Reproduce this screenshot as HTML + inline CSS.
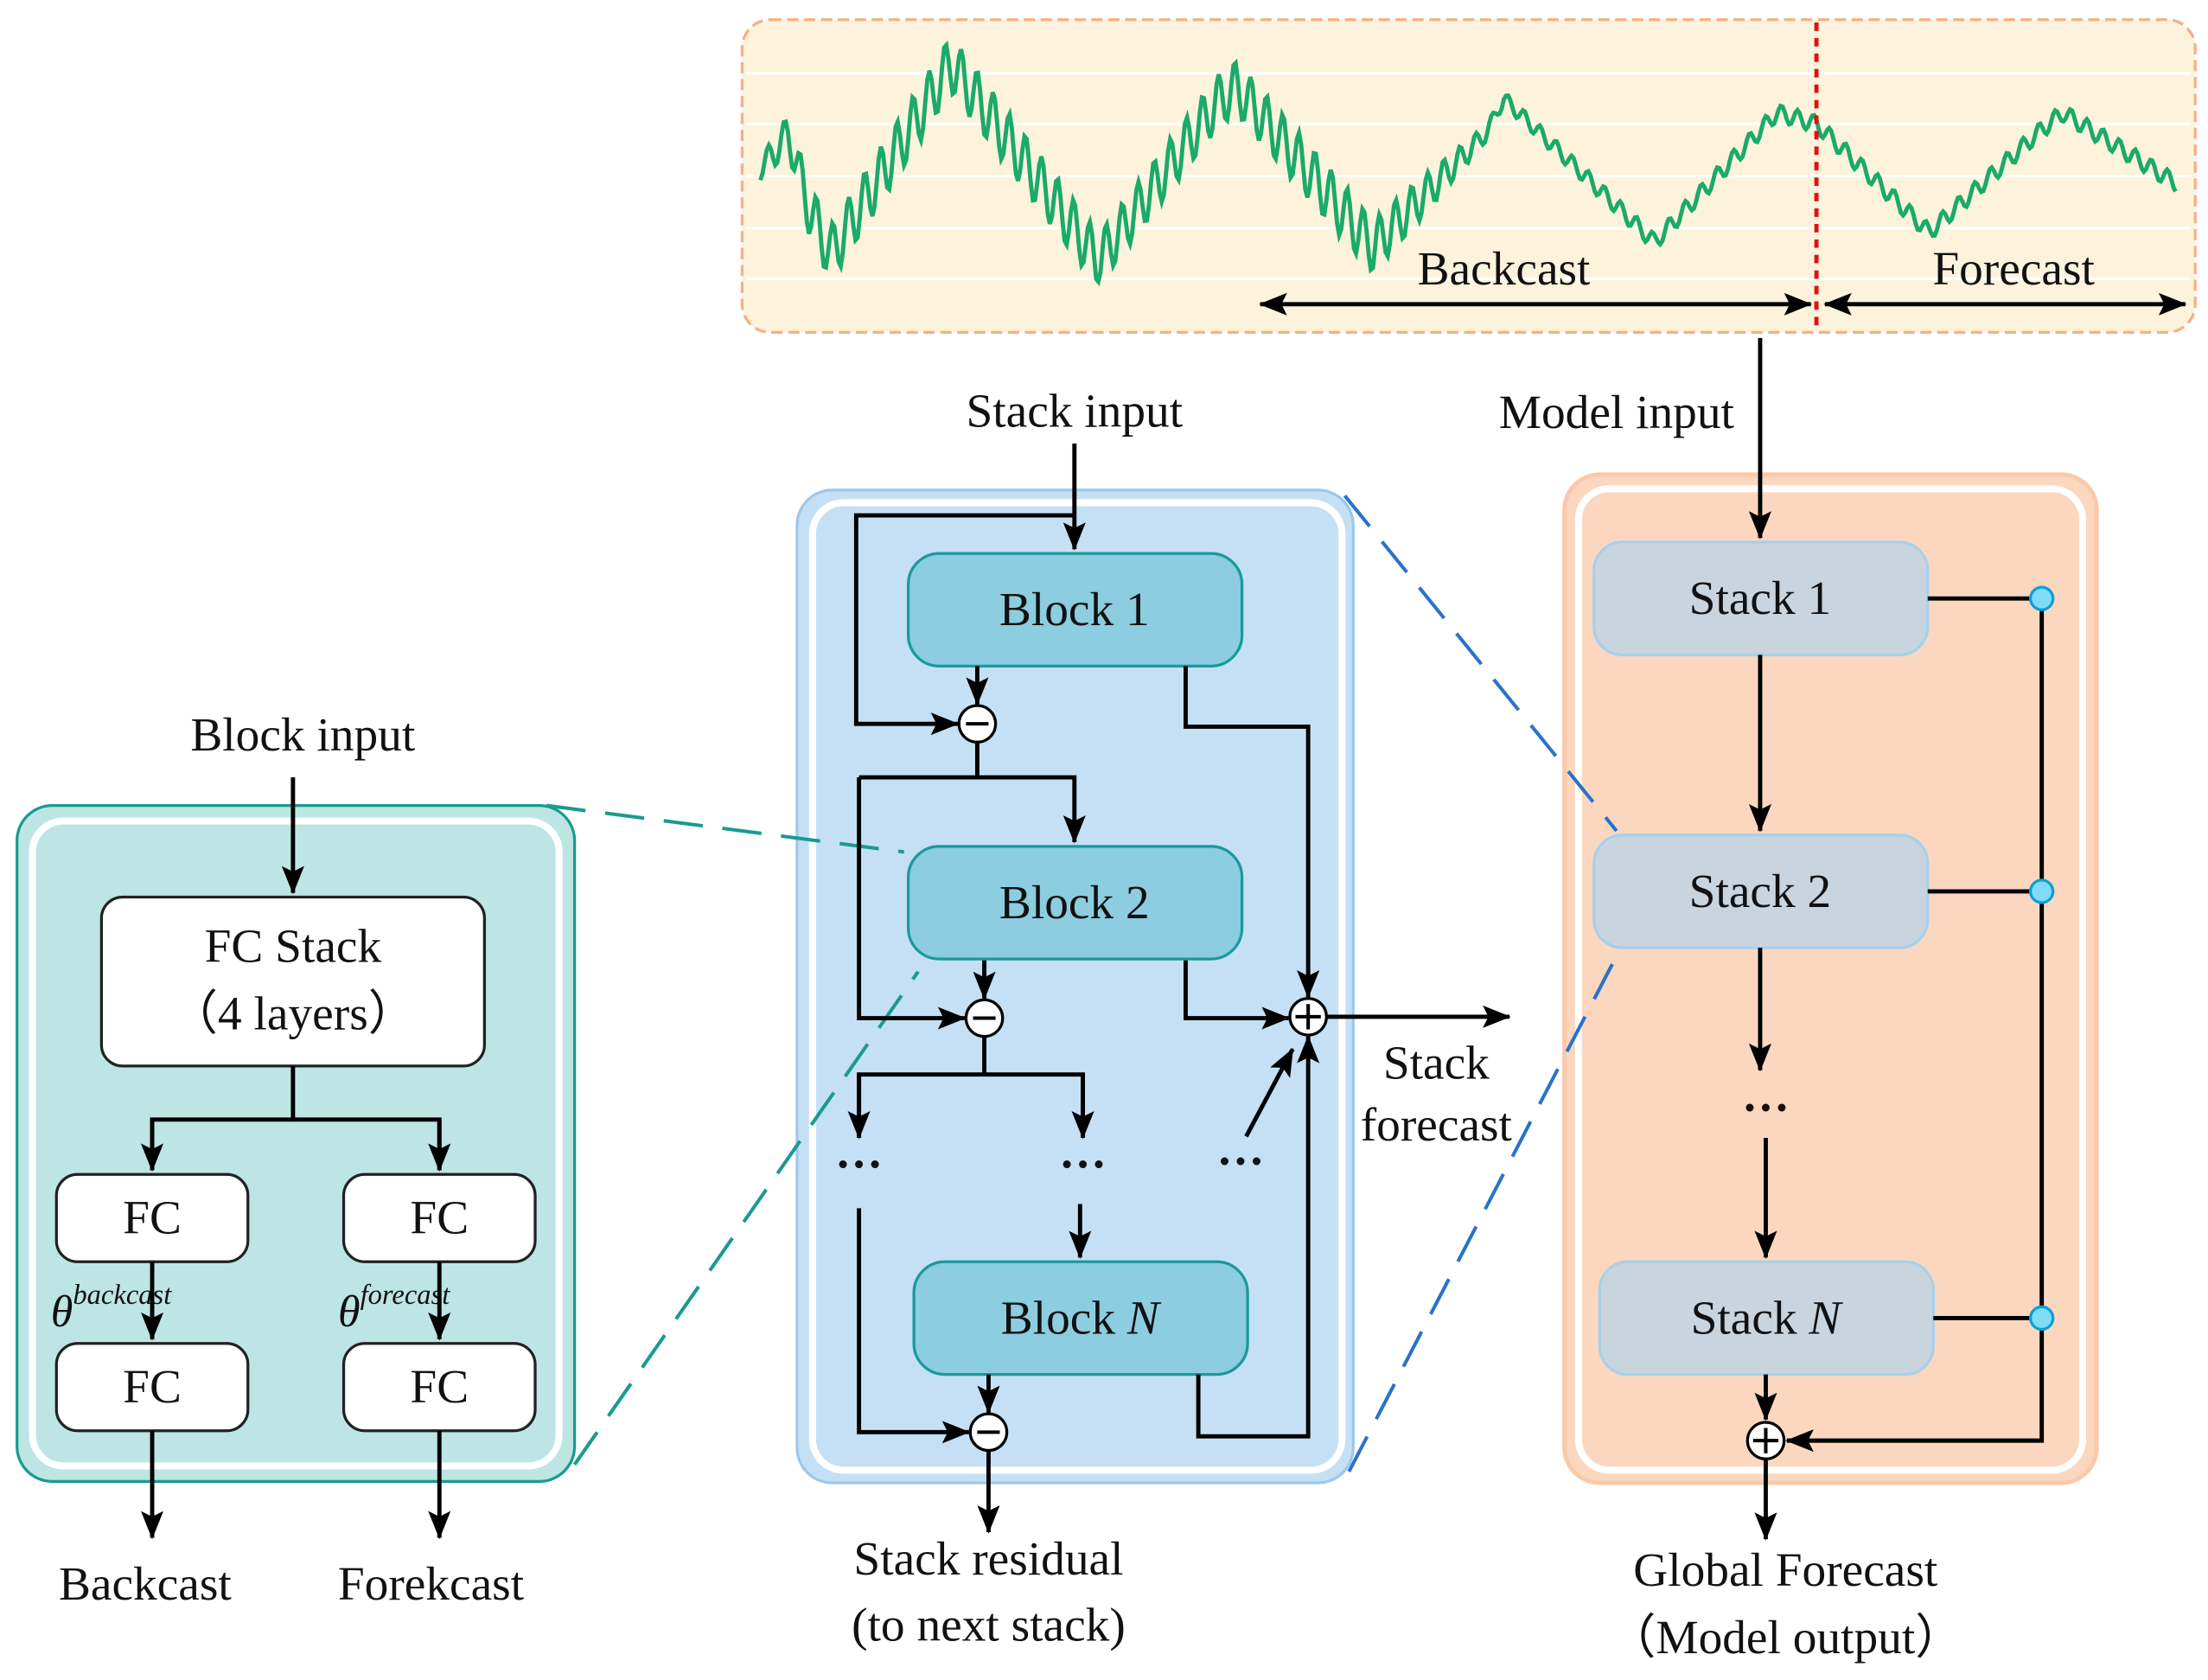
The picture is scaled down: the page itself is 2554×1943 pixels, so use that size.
<!DOCTYPE html>
<html><head><meta charset="utf-8"><style>html,body{margin:0;padding:0;background:#fff}svg{display:block}text{font-family:"Liberation Serif",serif;fill:#111}</style></head>
<body>
<svg id="s" width="2554" height="1943" viewBox="0 0 1568 1193" xmlns="http://www.w3.org/2000/svg">
<defs>
<marker id="a2" markerWidth="20" markerHeight="16" refX="19" refY="8" orient="auto" markerUnits="userSpaceOnUse" viewBox="0 0 20 16"><path d="M0,0 L20,8 L0,16 L4,8 z" fill="#000"/></marker>
<marker id="b2" markerWidth="20" markerHeight="16" refX="1" refY="8" orient="auto" markerUnits="userSpaceOnUse" viewBox="0 0 20 16"><path d="M20,0 L0,8 L20,16 L16,8 z" fill="#000"/></marker>
</defs>
<!-- top panel -->
<rect x="527" y="14" width="1032" height="222" rx="20" fill="#fdf3dc" stroke="#f4b183" stroke-width="2" stroke-dasharray="8,4"/>
<g stroke="#fff" stroke-width="2"><line x1="530" y1="52" x2="1556" y2="52"/><line x1="530" y1="88" x2="1556" y2="88"/><line x1="530" y1="125" x2="1556" y2="125"/><line x1="530" y1="162" x2="1556" y2="162"/><line x1="530" y1="198" x2="1556" y2="198"/></g>
<polyline id="wave" fill="none" stroke="#1aaa6a" stroke-width="3" points=""/>
<line x1="1290" y1="16" x2="1290" y2="236" stroke="#e01010" stroke-width="3" stroke-dasharray="6,5"/>
<g stroke="#000" stroke-width="3" fill="none">
<line x1="895" y1="216" x2="1286" y2="216" marker-start="url(#b2)" marker-end="url(#a2)"/>
<line x1="1296" y1="216" x2="1552" y2="216" marker-start="url(#b2)" marker-end="url(#a2)"/>
</g>
<text x="1068" y="202" font-size="34" text-anchor="middle">Backcast</text>
<text x="1430" y="202" font-size="34" text-anchor="middle">Forecast</text>
<text x="763" y="303" font-size="34" text-anchor="middle">Stack input</text>
<text x="1148" y="304" font-size="34" text-anchor="middle">Model input</text>

<!-- panels -->
<rect x="566" y="348" width="395" height="705" rx="25" fill="#c5e0f4" stroke="#9dc8ec" stroke-width="2"/>
<rect x="577" y="357" width="376" height="687" rx="22" fill="none" stroke="#fff" stroke-width="5"/>
<rect x="1111" y="337" width="378" height="716" rx="25" fill="#fcd7c0" stroke="#fbc8a8" stroke-width="3"/>
<rect x="1121" y="347" width="358" height="697" rx="22" fill="none" stroke="#fff" stroke-width="5"/>

<!-- dashed connectors -->
<g fill="none" stroke-width="2.5" stroke-dasharray="28,14">
<line x1="388" y1="572" x2="642" y2="605" stroke="#1a9a90"/>
<line x1="408" y1="1040" x2="652" y2="690" stroke="#1a9a90"/>
<line x1="955" y1="352" x2="1148" y2="590" stroke="#2a72c8"/>
<line x1="958" y1="1045" x2="1150" y2="675" stroke="#2a72c8"/>
</g>

<g fill="#8ccde0" stroke="#1a9a9a" stroke-width="2">
<rect x="645" y="393" width="237" height="80" rx="22"/>
<rect x="645" y="601" width="237" height="80" rx="22"/>
<rect x="649" y="896" width="237" height="80" rx="22"/>
</g>
<text x="763" y="444" font-size="34" text-anchor="middle">Block 1</text>
<text x="763" y="652" font-size="34" text-anchor="middle">Block 2</text>
<text x="767" y="947" font-size="34" text-anchor="middle">Block <tspan font-style="italic">N</tspan></text>
<g stroke="#000" stroke-width="3" fill="none">
<line x1="763" y1="315" x2="763" y2="390" marker-end="url(#a2)"/>
<polyline points="763,366 608,366 608,514 680,514" marker-end="url(#a2)"/>
<line x1="694" y1="473" x2="694" y2="500" marker-end="url(#a2)"/>
<polyline points="694,527 694,552"/>
<polyline points="610,552 763,552 763,598" marker-end="url(#a2)"/>
<polyline points="610,552 610,723 685,723" marker-end="url(#a2)"/>
<line x1="699" y1="682" x2="699" y2="709" marker-end="url(#a2)"/>
<line x1="699" y1="736" x2="699" y2="763"/>
<polyline points="610,808 610,763 769,763 769,808" />
<line x1="610" y1="763" x2="610" y2="808" marker-end="url(#a2)"/>
<line x1="769" y1="763" x2="769" y2="808" marker-end="url(#a2)"/>
<line x1="767" y1="855" x2="767" y2="893" marker-end="url(#a2)"/>
<polyline points="610,858 610,1017 688,1017" marker-end="url(#a2)"/>
<line x1="702" y1="976" x2="702" y2="1003" marker-end="url(#a2)"/>
<line x1="702" y1="1030" x2="702" y2="1088" marker-end="url(#a2)"/>
<polyline points="842,473 842,516 929,516 929,708" marker-end="url(#a2)"/>
<polyline points="842,682 842,723 915,723" marker-end="url(#a2)"/>
<polyline points="851,976 851,1020 929,1020 929,736" marker-end="url(#a2)"/>
<line x1="885" y1="807" x2="918" y2="745" marker-end="url(#a2)"/>
<line x1="942" y1="722" x2="1072" y2="722" marker-end="url(#a2)"/>
</g>
<g fill="#fff" stroke="#000" stroke-width="2">
<circle cx="694" cy="514" r="13"/><circle cx="699" cy="723" r="13"/><circle cx="702" cy="1017" r="13"/><circle cx="929" cy="722" r="13"/>
</g>
<g stroke="#000" stroke-width="2.5">
<line x1="686" y1="514" x2="702" y2="514"/><line x1="691" y1="723" x2="707" y2="723"/><line x1="694" y1="1017" x2="710" y2="1017"/>
<line x1="920" y1="722" x2="938" y2="722"/><line x1="929" y1="713" x2="929" y2="731"/>
</g>
<text x="610" y="838" font-size="34" text-anchor="middle" font-weight="bold">···</text>
<text x="769" y="838" font-size="34" text-anchor="middle" font-weight="bold">···</text>
<text x="881" y="836" font-size="34" text-anchor="middle" font-weight="bold">···</text>
<text x="1020" y="766" font-size="34" text-anchor="middle">Stack</text>
<text x="1020" y="810" font-size="34" text-anchor="middle">forecast</text>
<text x="702" y="1118" font-size="34" text-anchor="middle">Stack residual</text>
<text x="702" y="1165" font-size="34" text-anchor="middle">(to next stack)</text>

<!-- right panel contents -->
<g fill="#c8d5df" stroke="#a8d0ea" stroke-width="2">
<rect x="1132" y="385" width="237" height="80" rx="20"/>
<rect x="1132" y="593" width="237" height="80" rx="20"/>
<rect x="1136" y="896" width="237" height="80" rx="20"/>
</g>
<text x="1250" y="436" font-size="34" text-anchor="middle">Stack 1</text>
<text x="1250" y="644" font-size="34" text-anchor="middle">Stack 2</text>
<text x="1254" y="947" font-size="34" text-anchor="middle">Stack <tspan font-style="italic">N</tspan></text>
<g stroke="#000" stroke-width="3" fill="none">
<line x1="1250" y1="240" x2="1250" y2="382" marker-end="url(#a2)"/>
<line x1="1250" y1="465" x2="1250" y2="590" marker-end="url(#a2)"/>
<line x1="1250" y1="673" x2="1250" y2="760" marker-end="url(#a2)"/>
<line x1="1254" y1="808" x2="1254" y2="893" marker-end="url(#a2)"/>
<line x1="1254" y1="976" x2="1254" y2="1008" marker-end="url(#a2)"/>
<line x1="1254" y1="1037" x2="1254" y2="1093" marker-end="url(#a2)"/>
<line x1="1369" y1="425" x2="1450" y2="425"/>
<line x1="1369" y1="633" x2="1450" y2="633"/>
<line x1="1373" y1="936" x2="1450" y2="936"/>
<polyline points="1450,425 1450,1023 1269,1023" marker-end="url(#a2)"/>
</g>
<g fill="#7fdcf7" stroke="#0aa0d8" stroke-width="2">
<circle cx="1450" cy="425" r="8"/><circle cx="1450" cy="633" r="8"/><circle cx="1450" cy="936" r="8"/>
</g>
<circle cx="1254" cy="1023" r="13" fill="#fff" stroke="#000" stroke-width="2"/>
<g stroke="#000" stroke-width="2.5"><line x1="1245" y1="1023" x2="1263" y2="1023"/><line x1="1254" y1="1014" x2="1254" y2="1032"/></g>
<text x="1254" y="798" font-size="34" text-anchor="middle" font-weight="bold">···</text>
<text x="1268" y="1126" font-size="34" text-anchor="middle">Global Forecast</text>
<text x="1268" y="1174" font-size="34" text-anchor="middle">（Model output）</text>

<!-- left panel -->
<text x="215" y="533" font-size="34" text-anchor="middle">Block input</text>
<rect x="12" y="572" width="396" height="480" rx="25" fill="#bde5e3" stroke="#1a9a90" stroke-width="2"/>
<rect x="23" y="583" width="374" height="458" rx="22" fill="none" stroke="#fff" stroke-width="5"/>
<g fill="#fff" stroke="#222" stroke-width="2">
<rect x="72" y="637" width="272" height="120" rx="15"/>
<rect x="40" y="834" width="136" height="62" rx="15"/>
<rect x="244" y="834" width="136" height="62" rx="15"/>
<rect x="40" y="954" width="136" height="62" rx="15"/>
<rect x="244" y="954" width="136" height="62" rx="15"/>
</g>
<text x="208" y="683" font-size="34" text-anchor="middle">FC Stack</text>
<text x="208" y="731" font-size="34" text-anchor="middle">（4 layers）</text>
<text x="108" y="876" font-size="34" text-anchor="middle">FC</text>
<text x="312" y="876" font-size="34" text-anchor="middle">FC</text>
<text x="108" y="996" font-size="34" text-anchor="middle">FC</text>
<text x="312" y="996" font-size="34" text-anchor="middle">FC</text>
<text x="36" y="942" font-size="32" font-style="italic">θ<tspan font-size="20" dy="-16">backcast</tspan></text>
<text x="240" y="942" font-size="32" font-style="italic">θ<tspan font-size="20" dy="-16">forecast</tspan></text>
<g stroke="#000" stroke-width="3" fill="none">
<line x1="208" y1="552" x2="208" y2="634" marker-end="url(#a2)"/>
<line x1="208" y1="757" x2="208" y2="795"/>
<polyline points="108,831 108,795 312,795 312,831"/>
<line x1="108" y1="795" x2="108" y2="831" marker-end="url(#a2)"/>
<line x1="312" y1="795" x2="312" y2="831" marker-end="url(#a2)"/>
<line x1="108" y1="896" x2="108" y2="951" marker-end="url(#a2)"/>
<line x1="312" y1="896" x2="312" y2="951" marker-end="url(#a2)"/>
<line x1="108" y1="1016" x2="108" y2="1092" marker-end="url(#a2)"/>
<line x1="312" y1="1016" x2="312" y2="1092" marker-end="url(#a2)"/>
</g>
<text x="103" y="1136" font-size="34" text-anchor="middle">Backcast</text>
<text x="306" y="1136" font-size="34" text-anchor="middle">Forekcast</text>
</svg>
<script>
(function(){
var k=[[540,120],[560,95],[575,150],[590,180],[660,70],[675,45],[780,185],[865,72],[878,62],[975,175],[1055,95],[1068,70],[1175,172],[1262,80],[1290,88],[1370,165],[1450,92],[1465,80],[1545,130]];
var amp=[[540,8],[580,20],[760,20],[800,18],[960,20],[1000,16],[1060,5],[1170,6],[1560,6]];
function interp(a,x){for(var i=0;i<a.length-1;i++){if(x<=a[i+1][0]){var t=(x-a[i][0])/(a[i+1][0]-a[i][0]);return a[i][1]+t*(a[i+1][1]-a[i][1]);}}return a[a.length-1][1];}
var p=[];for(var x=540;x<=1545;x+=1.5){var y=interp(k,x)+interp(amp,x)*Math.sin(x*0.55);y=Math.max(30,Math.min(200,y));p.push(x.toFixed(1)+","+y.toFixed(1));}
document.getElementById("wave").setAttribute("points",p.join(" "));
})();
</script>
</body></html>
